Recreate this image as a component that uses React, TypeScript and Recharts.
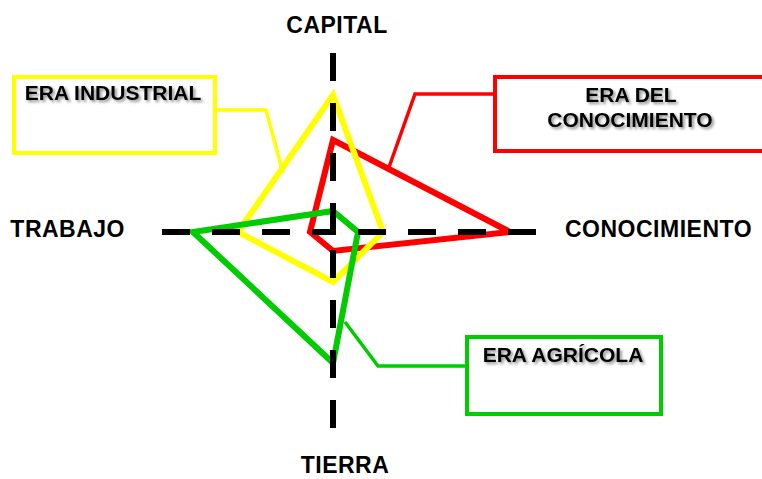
import { RadarChart, Radar, PolarAngleAxis, PolarRadiusAxis } from "recharts";

// axes, clockwise from the top
const categories = ["CAPITAL", "CONOCIMIENTO", "TIERRA", "TRABAJO"];
const eraIndustrial = [137, 50, 50, 95];
const eraConocimiento = [92, 177, 19, 23];
const eraAgricola = [21, 25, 131, 140];
// how far each dashed axis runs out from the centre (same units as the values)
const axisReach = [179, 203, 196, 171];

const data = categories.map((axis, i) => ({
  axis,
  industrial: eraIndustrial[i],
  conocimiento: eraConocimiento[i],
  agricola: eraAgricola[i],
}));

const W = 762;
const H = 479;
const CX = 333;
const CY = 232;
const R = 200;
const MAX = 200;
const FONT = "'Liberation Sans', Arial, sans-serif";

const YELLOW = "#ffff00";
const RED = "#ff0000";
const GREEN = "#00cc00";

// label placement per axis: offset from centre + anchor
const labelPos: Record<string, { dx: number; dy: number; anchor: "start" | "middle" | "end" }> = {
  CAPITAL: { dx: 4, dy: -199, anchor: "middle" },
  CONOCIMIENTO: { dx: 232, dy: 5, anchor: "start" },
  TIERRA: { dx: 12, dy: 241, anchor: "middle" },
  TRABAJO: { dx: -208, dy: 5, anchor: "end" },
};

function AxisTick(props: any) {
  const name = props.payload?.value as string;
  const i = categories.indexOf(name);
  const ang = ((90 - i * 90) * Math.PI) / 180;
  const reach = (axisReach[i] / MAX) * R;
  const x1 = CX + Math.cos(ang) * reach;
  const y1 = CY - Math.sin(ang) * reach;
  const lp = labelPos[name];
  return (
    <g>
      <line
        x1={x1}
        y1={y1}
        x2={CX}
        y2={CY}
        stroke="#000"
        strokeWidth={6}
        strokeDasharray="28 22"
      />
      <text
        x={CX + lp.dx}
        y={CY + lp.dy}
        textAnchor={lp.anchor}
        fontFamily={FONT}
        fontWeight="bold"
        fontSize={23}
        letterSpacing={0.5}
        fill="#000"
      >
        {name}
      </text>
    </g>
  );
}

function Callouts() {
  const txt = {
    fontFamily: FONT,
    fontWeight: "bold" as const,
    fontSize: 21,
    fill: "#000",
    textAnchor: "middle" as const,
    filter: "url(#shadow)",
  };
  return (
    <svg
      width={W}
      height={H}
      style={{ position: "absolute", left: 0, top: 0, pointerEvents: "none" }}
    >
      <defs>
        <filter id="shadow" x="-10%" y="-30%" width="130%" height="180%">
          <feDropShadow dx="2" dy="2" stdDeviation="1.5" floodColor="#000" floodOpacity="0.45" />
        </filter>
      </defs>
      {/* Era industrial */}
      <rect x={14} y={77} width={201} height={76} fill="none" stroke={YELLOW} strokeWidth={4} />
      <polyline points="217,110 266,110 283,173" fill="none" stroke={YELLOW} strokeWidth={3.5} />
      <text x={113} y={100} {...txt}>ERA INDUSTRIAL</text>
      {/* Era del conocimiento */}
      <rect x={495} y={77} width={300} height={74} fill="none" stroke={RED} strokeWidth={4} />
      <polyline points="493,94 415,94 388,170" fill="none" stroke={RED} strokeWidth={3.5} />
      <text x={631} y={102} {...txt}>ERA DEL</text>
      <text x={630} y={127} {...txt}>CONOCIMIENTO</text>
      {/* Era agricola */}
      <rect x={467} y={337} width={194} height={77} fill="none" stroke={GREEN} strokeWidth={4} />
      <polyline points="465,366 378,366 345,322" fill="none" stroke={GREEN} strokeWidth={3.5} />
      <text x={563} y={362} {...txt}>ERA AGRÍCOLA</text>
    </svg>
  );
}

export default function App() {
  return (
    <div style={{ position: "absolute", left: 0, top: 0, width: W, height: H, background: "#fff" }}>
      <RadarChart
        width={W}
        height={H}
        data={data}
        cx={CX}
        cy={CY}
        outerRadius={R}
        margin={{ top: 0, right: 0, bottom: 0, left: 0 }}
      >
        <PolarAngleAxis dataKey="axis" tick={<AxisTick />} tickLine={false} axisLine={false} />
        <PolarRadiusAxis domain={[0, MAX]} tick={false} axisLine={false} />
        <Radar
          dataKey="conocimiento"
          stroke={RED}
          strokeWidth={6}
          fill="none"
          fillOpacity={0}
          dot={false}
          isAnimationActive={false}
        />
        <Radar
          dataKey="industrial"
          stroke={YELLOW}
          strokeWidth={6}
          fill="none"
          fillOpacity={0}
          dot={false}
          isAnimationActive={false}
        />
        <Radar
          dataKey="agricola"
          stroke={GREEN}
          strokeWidth={6}
          fill="none"
          fillOpacity={0}
          dot={false}
          isAnimationActive={false}
        />
      </RadarChart>
      <Callouts />
    </div>
  );
}
